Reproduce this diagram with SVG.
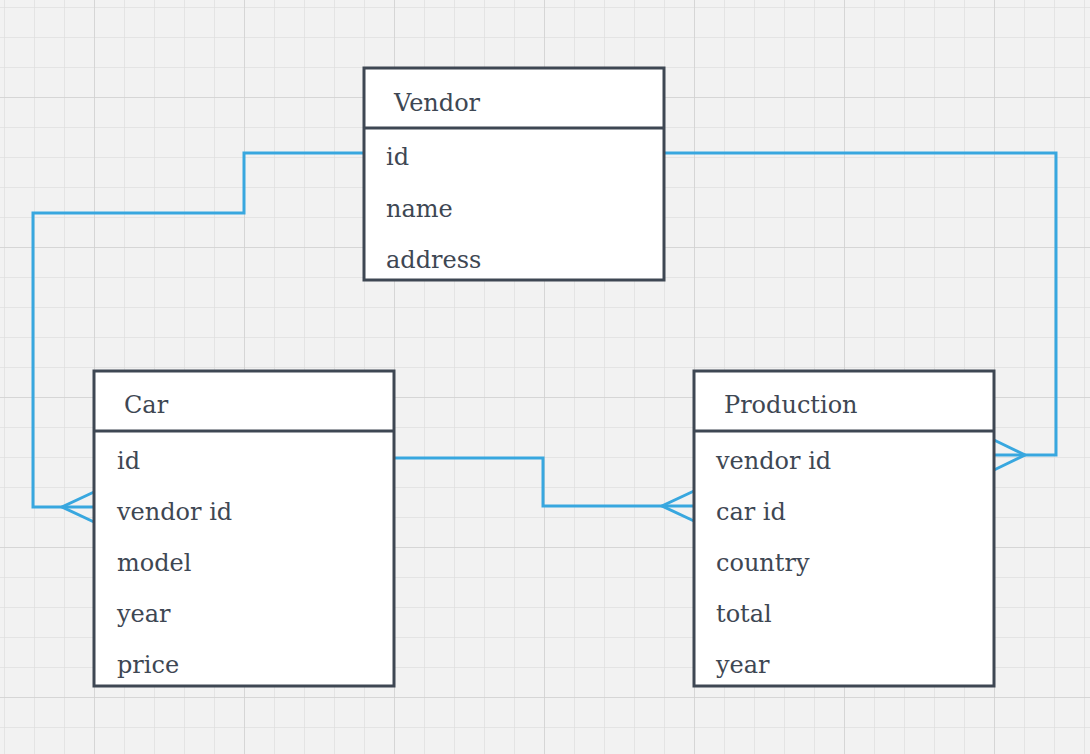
<svg xmlns="http://www.w3.org/2000/svg" width="1090" height="754" viewBox="0 0 1090 754">
<defs>
<pattern id="minor" x="4" y="7" width="30" height="30" patternUnits="userSpaceOnUse">
<path d="M0 0V30M0 0H30" fill="none" stroke="#e0e0e0" stroke-width="1.5"/>
</pattern>
<pattern id="major" x="94" y="97" width="150" height="150" patternUnits="userSpaceOnUse">
<path d="M0 0V150M0 0H150" fill="none" stroke="#d2d2d2" stroke-width="1.5"/>
</pattern>
</defs>
<style>
.box{fill:#fff;stroke:#3e4753;stroke-width:3}
.sep{stroke:#3e4753;stroke-width:3}
text{font-family:"DejaVu Serif","Liberation Serif",serif;font-size:24px;fill:#3e4753}
.conn{fill:none;stroke:#38a7df;stroke-width:3}
</style>
<rect width="1090" height="754" fill="#f2f2f2"/>
<rect width="1090" height="754" fill="url(#minor)"/>
<rect width="1090" height="754" fill="url(#major)"/>
<g id="connectors">
<path class="conn" d="M364 153H244V213H33V507H94"/>
<path class="conn" d="M94 492L62 507L94 522"/>
<path class="conn" d="M394 458H543V506H694"/>
<path class="conn" d="M694 491L662 506L694 521"/>
<path class="conn" d="M664 153H1056V455H994"/>
<path class="conn" d="M994 440L1025 455L994 470"/>
</g>
<g id="vendor">
<rect class="box" x="364" y="68" width="300" height="212"/>
<line class="sep" x1="364" y1="128" x2="664" y2="128"/>
<text x="394" y="111">Vendor</text>
<text x="386" y="165">id</text>
<text x="386" y="217">name</text>
<text x="386" y="268">address</text>
</g>
<g id="car">
<rect class="box" x="94" y="371" width="300" height="315"/>
<line class="sep" x1="94" y1="431" x2="394" y2="431"/>
<text x="124" y="413">Car</text>
<text x="117" y="469">id</text>
<text x="117" y="520">vendor id</text>
<text x="117" y="571">model</text>
<text x="117" y="622">year</text>
<text x="117" y="673">price</text>
</g>
<g id="production">
<rect class="box" x="694" y="371" width="300" height="315"/>
<line class="sep" x1="694" y1="431" x2="994" y2="431"/>
<text x="724" y="413">Production</text>
<text x="716" y="469">vendor id</text>
<text x="716" y="520">car id</text>
<text x="716" y="571">country</text>
<text x="716" y="622">total</text>
<text x="716" y="673">year</text>
</g>
</svg>
